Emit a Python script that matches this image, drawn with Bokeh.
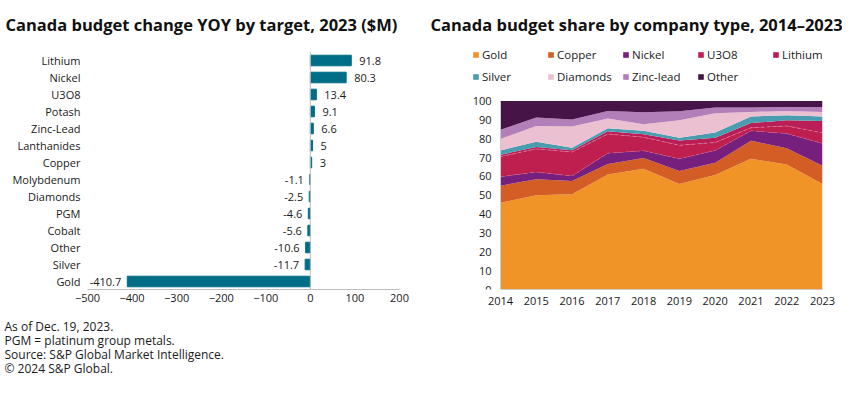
import numpy as np
from bokeh.plotting import figure
from bokeh.models import (ColumnDataSource, Range1d, Title, Legend, LegendItem, FixedTicker)
from bokeh.core.properties import value
from bokeh.layouts import row
from bokeh.embed import file_html
from bokeh.resources import INLINE

FONT = "Open Sans"

# ---------------- data: left chart ----------------
targets = ["Lithium", "Nickel", "U3O8", "Potash", "Zinc-Lead", "Lanthanides", "Copper",
           "Molybdenum", "Diamonds", "PGM", "Cobalt", "Other", "Silver", "Gold"]
changes = [91.8, 80.3, 13.4, 9.1, 6.6, 5, 3, -1.1, -2.5, -4.6, -5.6, -10.6, -11.7, -410.7]
x_ticks_left = [-500, -400, -300, -200, -100, 0, 100, 200]

# ---------------- data: right chart (share %, 2014-2023) ----------------
years = [2014, 2015, 2016, 2017, 2018, 2019, 2020, 2021, 2022, 2023]
gold = [46.0, 50.0, 50.5, 61.0, 64.0, 56.0, 60.8, 69.3, 66.3, 56.0]
copper = [9.1, 8.5, 7.1, 5.6, 5.8, 6.8, 6.4, 9.6, 8.7, 9.6]
nickel = [4.7, 3.8, 2.6, 5.7, 3.8, 6.5, 6.6, 5.3, 7.7, 11.8]
u3o8 = [10.7, 12.3, 12.7, 10.2, 7.2, 7.2, 4.2, 1.6, 4.1, 5.7]
lithium = [1.0, 1.0, 1.0, 1.5, 1.5, 2.5, 2.5, 2.5, 3.0, 6.3]
silver = [2.3, 2.8, 1.3, 1.5, 1.9, 1.5, 2.8, 3.5, 2.7, 2.4]
diamonds = [6.0, 8.4, 11.3, 5.2, 3.4, 9.3, 10.2, 2.4, 2.2, 2.4]
zinc_lead = [4.9, 4.5, 3.7, 4.0, 6.4, 4.7, 3.1, 2.4, 2.1, 2.6]
other = [15.3, 8.7, 9.8, 5.3, 6.0, 5.5, 3.4, 3.4, 3.2, 3.2]
series_names = ["Gold", "Copper", "Nickel", "U3O8", "Lithium", "Silver", "Diamonds", "Zinc-lead", "Other"]
series_colors = ["#F09428", "#D45D26", "#761F7C", "#BE1F4F", "#B91E56", "#4A9DB0", "#EBC0D1", "#B37FB8", "#471448"]
y_ticks_right = [0, 10, 20, 30, 40, 50, 60, 70, 80, 90, 100]

title_left = "Canada budget change YOY by target, 2023 ($M)"
title_right = "Canada budget share by company type, 2014\u20132023"
footnotes = ["As of Dec. 19, 2023.", "PGM = platinum group metals.",
             "Source: S&P Global Market Intelligence.", "\u00a9 2024 S&P Global."]

TEXT = "#1a1a1a"

# layout constants (pixels)
FRAME_H = 245
TOP = 44
BOTTOM = 107
ROW_PX = 17.0


def style_axis(ax, standoff):
    ax.major_tick_line_color = None
    ax.minor_tick_line_color = None
    ax.major_tick_out = 0
    ax.major_tick_in = 0
    ax.minor_tick_out = 0
    ax.major_label_text_font_size = "11px"
    ax.major_label_text_color = TEXT
    ax.major_label_text_font = FONT
    ax.major_label_standoff = standoff


def chart_title(text, offset):
    return Title(text=text, align="left", vertical_align="top", offset=offset, standoff=14,
                 text_font=FONT, text_font_size="16.5px", text_font_style="bold",
                 text_color="#111111")


# ================= left figure =================
n = len(targets)
pos_y = [n - 1 - i for i in range(n)]
y0 = -8.0 / ROW_PX
p1 = figure(x_range=Range1d(-500, 200), y_range=Range1d(y0, y0 + FRAME_H / ROW_PX),
            frame_width=312, frame_height=FRAME_H,
            min_border_left=87, min_border_right=16, min_border_top=TOP, min_border_bottom=BOTTOM,
            output_backend="svg", toolbar_location=None)
p1.outline_line_color = None
p1.xgrid.visible = False
p1.ygrid.visible = False

lbls = [f"{v:g}" for v in changes]
src1 = ColumnDataSource(dict(y=pos_y, val=changes, lbl=lbls))
p1.hbar(y="y", left=0, right="val", height=0.62, color="#006E86", source=src1)

pos = [i for i, v in enumerate(changes) if v >= 0]
neg = [i for i, v in enumerate(changes) if v < 0]
srcp = ColumnDataSource(dict(y=[pos_y[i] for i in pos], val=[changes[i] for i in pos],
                             lbl=[lbls[i] for i in pos]))
srcn = ColumnDataSource(dict(y=[pos_y[i] for i in neg], val=[changes[i] for i in neg],
                             lbl=[lbls[i] for i in neg]))
p1.text(x="val", y="y", text="lbl", source=srcp, x_offset=8, text_align="left",
        text_baseline="middle", text_font_size="11px", text_color=TEXT, text_font=value(FONT))
p1.text(x="val", y="y", text="lbl", source=srcn, x_offset=-6, text_align="right",
        text_baseline="middle", text_font_size="11px", text_color=TEXT, text_font=value(FONT))

# zero reference line spanning the category slots
p1.segment(x0=[0], y0=[-0.5], x1=[0], y1=[n - 0.5], line_color="#bdbdbd", line_width=1)

p1.xaxis.ticker = FixedTicker(ticks=x_ticks_left)
p1.xaxis.axis_line_color = "#bdbdbd"
style_axis(p1.xaxis, 4)
p1.yaxis.ticker = FixedTicker(ticks=pos_y)
p1.yaxis.major_label_overrides = {pos_y[i]: targets[i] for i in range(n)}
p1.yaxis.axis_line_color = None
style_axis(p1.yaxis, 7)

p1.add_layout(chart_title(title_left, -82), "above")
# footnotes (a leading empty line pushes the block down below the axis)
p1.add_layout(Title(text="\n" + "\n".join(footnotes), align="left", offset=-83, standoff=0,
                    vertical_align="top", text_line_height=0.82,
                    text_font=FONT, text_font_size="12px", text_font_style="normal",
                    text_color=TEXT), "below")

# ================= right figure =================
FRAME_W2 = 352
px_per_year = 322.0 / 9
x_start = 2014 - 30.0 / px_per_year
p2 = figure(x_range=Range1d(x_start, 2023), y_range=Range1d(0, FRAME_H / 1.885),
            frame_width=FRAME_W2, frame_height=FRAME_H,
            min_border_left=55, min_border_right=20, min_border_top=TOP, min_border_bottom=BOTTOM,
            output_backend="svg", toolbar_location=None)
p2.outline_line_color = None
p2.xgrid.visible = False
p2.ygrid.visible = False

src2 = ColumnDataSource(dict(year=years, Gold=gold, Copper=copper, Nickel=nickel, U3O8=u3o8,
                             Lithium=lithium, Silver=silver, Diamonds=diamonds,
                             **{"Zinc-lead": zinc_lead}, Other=other))
rends = p2.varea_stack(stackers=series_names, x="year", color=series_colors, source=src2)

# faint dashed boundaries between nickel and the two red layers
b1 = np.array(gold) + np.array(copper) + np.array(nickel)
b2 = b1 + np.array(u3o8)
p2.line(years, b1, line_color="#D9668C", line_width=1, line_dash="3 3", line_alpha=0.5)
p2.line(years, b2, line_color="#E27A9A", line_width=1, line_dash="3 3", line_alpha=0.8)

p2.xaxis.ticker = FixedTicker(ticks=years)
p2.xaxis.bounds = (2014, 2023)
p2.yaxis.ticker = FixedTicker(ticks=y_ticks_right)
p2.yaxis.bounds = (0, 100)
p2.yaxis.fixed_location = 2014
for ax in (p2.xaxis, p2.yaxis):
    ax.axis_line_color = "#cccccc"
style_axis(p2.xaxis, 7)
style_axis(p2.yaxis, 9)
p2.yaxis.axis_label = "Share (%)"
p2.yaxis.axis_label_text_font = FONT
p2.yaxis.axis_label_text_font_size = "11px"
p2.yaxis.axis_label_text_font_style = "bold"
p2.yaxis.axis_label_text_color = TEXT
p2.yaxis.axis_label_standoff = 3

legend = Legend(items=[LegendItem(label=nm, renderers=[r]) for nm, r in zip(series_names, rends)],
                ncols=5, location=(2, 204), orientation="horizontal",
                glyph_width=7, glyph_height=7, label_standoff=3, label_width=60,
                label_height=17, spacing=5, padding=0, margin=0,
                border_line_color=None, background_fill_alpha=0,
                label_text_font=FONT, label_text_font_size="11.5px", label_text_color=TEXT)
p2.add_layout(legend)

p2.add_layout(chart_title(title_right, -40), "above")

layout = row(p1, p2)
open("out.html", "w").write(file_html(layout, INLINE))
